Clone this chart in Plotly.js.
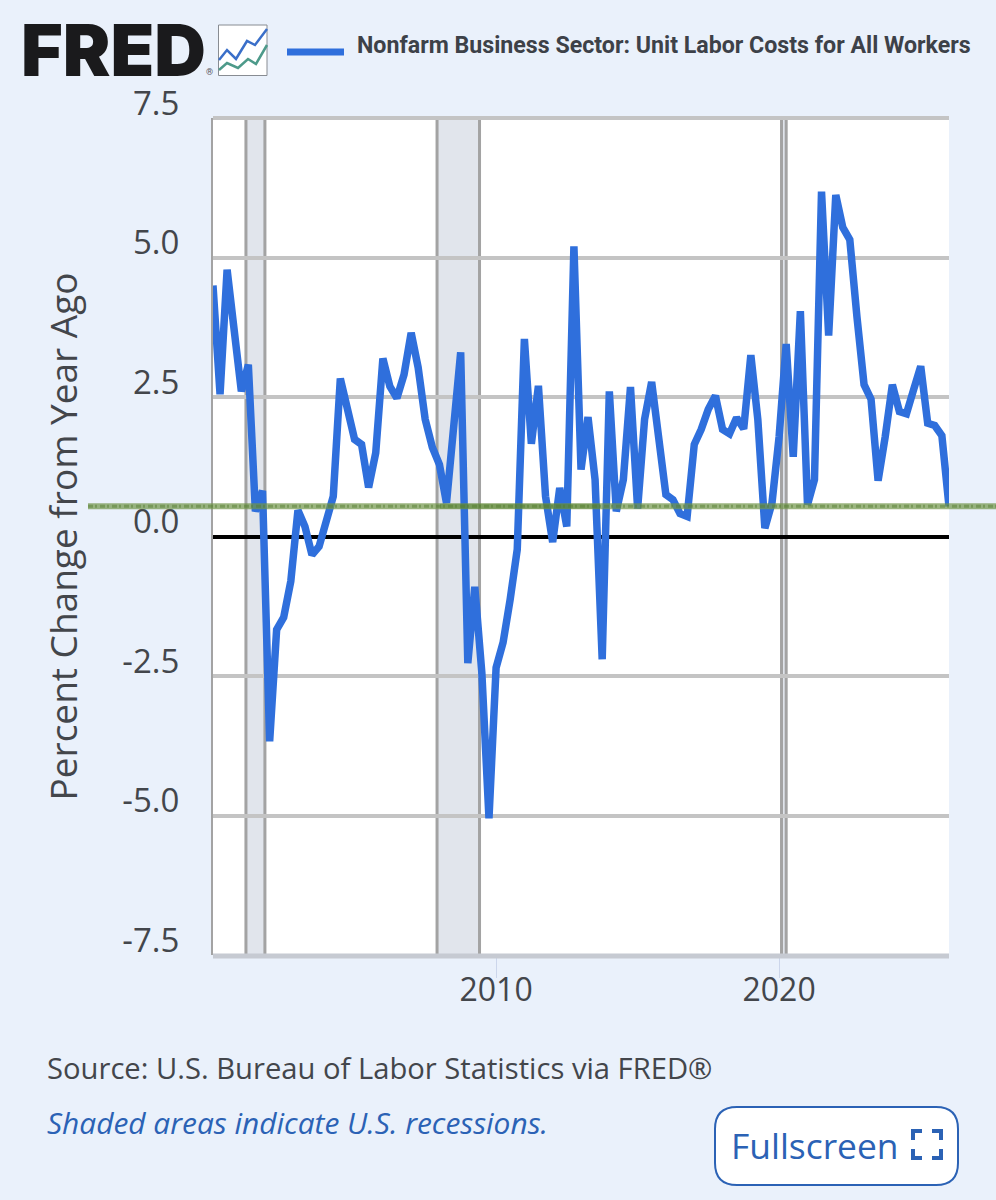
<!DOCTYPE html>
<html>
<head>
<meta charset="utf-8">
<script src="https://cdn.plot.ly/plotly-3.0.1.min.js"></script>
<style>
html, body { margin: 0; padding: 0; background: #eaf1fb; }
</style>
</head>
<body>
<div id="myDiv" style="width:996px;height:1200px"></div>
<script>
const seriesName = 'Nonfarm Business Sector: Unit Labor Costs for All Workers';

// percent change from year ago, 2000 Q1 to 2026 Q1
const values = [
    4.5, 2.55, 4.78, 3.76, 2.6, 3.08, 0.45, 0.82,
    -3.67, -1.67, -1.45, -0.8, 0.47, 0.18, -0.33, -0.18,
    0.34, 0.72, 2.83, 2.28, 1.74, 1.65, 0.88, 1.5,
    3.19, 2.69, 2.48, 2.9, 3.65, 3.03, 2.1, 1.6,
    1.29, 0.6, 1.97, 3.3, -2.27, -0.9, -2.44, -5.05,
    -2.35, -1.9, -1.13, -0.23, 3.54, 1.66, 2.7, 0.72,
    -0.1, 0.87, 0.18, 5.2, 1.2, 2.14, 1.02, -2.2,
    2.6, 0.45, 1.02, 2.68, 0.5, 2.1, 2.77, 1.74,
    0.75, 0.66, 0.41, 0.36, 1.65, 1.92, 2.28, 2.52,
    1.92, 1.84, 2.13, 1.93, 3.25, 2.1, 0.15, 0.6,
    1.79, 3.45, 1.43, 4.04, 0.57, 1.02, 6.18, 3.6,
    6.12, 5.54, 5.32, 3.94, 2.72, 2.46, 1.0, 1.79,
    2.72, 2.24, 2.2, 2.63, 3.05, 2.03, 1.99, 1.81,
    0.54
];

const recessionStarts = ['2001-03-01', '2007-12-01', '2020-02-01'];
const recessionEnds = ['2001-11-01', '2009-06-01', '2020-04-01'];

const yTicks = [-7.5, -5, -2.5, 0, 2.5, 5, 7.5];
const yTickLabels = ['-7.5', '-5.0', '-2.5', '0.0', '2.5', '5.0', '7.5'];
const xTicks = ['2010-01-01', '2020-01-01'];
const xTickLabels = ['2010', '2020'];

const greenLevel = 0.54;

// the plot area sits at 213..949 x 118..955 on the page
function px(x) { return (x - 213) / 736; }
function py(y) { return 1 - (y - 118) / 837; }

function getDates(count) {
    let dates = [];
    for (let i = 0; i < count; i++) {
        let year = 2000 + Math.floor(i / 4);
        let month = ['01', '04', '07', '10'][i % 4];
        dates.push(year + '-' + month + '-01');
    }
    return dates;
}

function recessionEdge(date) {
    return {
        type: 'line', layer: 'below', xref: 'x', yref: 'paper',
        x0: date, x1: date, y0: 0, y1: 1,
        line: {color: '#a3a3a3', width: 3}
    };
}

function getRecessions() {
    let shapes = [];
    recessionStarts.forEach((start, i) => {
        shapes.push({
            type: 'rect',
            layer: 'below',
            xref: 'x',
            yref: 'paper',
            x0: start,
            x1: recessionEnds[i],
            y0: 0,
            y1: 1,
            fillcolor: '#e1e5ec',
            line: {width: 0}
        });
        shapes.push(recessionEdge(start));
        shapes.push(recessionEdge(recessionEnds[i]));
    });
    return shapes;
}

// path in page pixels, turned into paper coordinates
function pagePath(points, close) {
    let d = points.map((p, i) => (i ? 'L' : 'M') + px(p[0]) + ',' + py(p[1])).join(' ');
    return d + (close ? ' Z' : '');
}

function pageShape(points, color, width) {
    return {
        type: 'path',
        xref: 'paper',
        yref: 'paper',
        path: pagePath(points),
        line: {color: color, width: width}
    };
}

function getChrome() {
    let shapes = [];

    // plotly drops the gridlines on the range ends, so draw those two
    shapes.push(pageShape([[213, 118], [949, 118]], '#c4c4c4', 4));
    shapes.push(pageShape([[213, 956], [949, 956]], '#c6cad2', 5));

    // the green stroke across the whole picture
    shapes.push({
        type: 'line', layer: 'above', xref: 'paper', yref: 'y',
        x0: px(88), x1: px(996), y0: greenLevel, y1: greenLevel,
        line: {color: 'rgba(112,150,72,0.7)', width: 6}
    });
    shapes.push({
        type: 'line', layer: 'above', xref: 'paper', yref: 'y',
        x0: px(88), x1: px(996), y0: greenLevel, y1: greenLevel,
        line: {color: 'rgba(80,122,45,0.45)', width: 3, dash: '5px,2px,2px,3px'}
    });
    shapes.push({
        type: 'line', layer: 'above', xref: 'paper', yref: 'y',
        x0: px(440), x1: px(600), y0: greenLevel, y1: greenLevel,
        line: {color: 'rgba(80,125,40,0.4)', width: 5}
    });

    // legend key
    shapes.push(pageShape([[287, 52], [344, 52]], '#2f6fdc', 7));

    // small chart icon next to the logo
    shapes.push({
        type: 'rect', xref: 'paper', yref: 'paper',
        x0: px(218.5), x1: px(267), y0: py(75.5), y1: py(25),
        fillcolor: '#ffffff',
        line: {color: '#888c92', width: 1}
    });
    shapes.push(pageShape([[219, 60], [227, 50], [236, 59], [247, 41], [255, 45], [267, 29]], '#3a6fc9', 2.5));
    shapes.push(pageShape([[219, 70], [227, 63], [238, 68], [248, 59], [256, 64], [267, 45]], '#4d9a8a', 2.5));

    // fullscreen button
    shapes.push({
        type: 'path', xref: 'paper', yref: 'paper',
        path: 'M' + px(737) + ',' + py(1107)
            + ' L' + px(936) + ',' + py(1107)
            + ' Q' + px(958) + ',' + py(1107) + ' ' + px(958) + ',' + py(1129)
            + ' L' + px(958) + ',' + py(1163)
            + ' Q' + px(958) + ',' + py(1185) + ' ' + px(936) + ',' + py(1185)
            + ' L' + px(737) + ',' + py(1185)
            + ' Q' + px(715) + ',' + py(1185) + ' ' + px(715) + ',' + py(1163)
            + ' L' + px(715) + ',' + py(1129)
            + ' Q' + px(715) + ',' + py(1107) + ' ' + px(737) + ',' + py(1107) + ' Z',
        fillcolor: '#ffffff',
        line: {color: '#2b62b5', width: 2}
    });
    shapes.push(pageShape([[913, 1140], [913, 1131], [922, 1131]], '#2b62b5', 4));
    shapes.push(pageShape([[932, 1131], [941, 1131], [941, 1140]], '#2b62b5', 4));
    shapes.push(pageShape([[913, 1149], [913, 1158], [922, 1158]], '#2b62b5', 4));
    shapes.push(pageShape([[932, 1158], [941, 1158], [941, 1149]], '#2b62b5', 4));

    return shapes;
}

function pageText(text, x, y, font, anchor) {
    return {
        text: text,
        xref: 'paper',
        yref: 'paper',
        x: px(x),
        y: py(y),
        xanchor: anchor || 'left',
        yanchor: 'middle',
        showarrow: false,
        font: font
    };
}

function getAnnotations() {
    return [
        pageText('FRED', 19, 50, {family: 'Inter', size: 71.5, color: '#1a1a1c', weight: 900}),
        pageText('®', 204, 72, {family: 'Roboto', size: 9, color: '#55585c'}),
        pageText(seriesName, 355, 45, {family: 'Roboto', size: 23.2, color: '#3d4148', weight: 700}),
        pageText('Source: U.S. Bureau of Labor Statistics via FRED®', 45, 1068,
            {family: 'Open Sans', size: 29.2, color: '#43464b'}),
        pageText('<i>Shaded areas indicate U.S. recessions.</i>', 45, 1122,
            {family: 'Open Sans', size: 29.9, color: '#2b62b5'}),
        pageText('Fullscreen', 729, 1145, {family: 'Open Sans', size: 35.4, color: '#2b62b5'})
    ];
}

Plotly.newPlot('myDiv', [{
    type: 'scatter',
    mode: 'lines',
    name: seriesName,
    x: getDates(values.length),
    y: values,
    line: {color: '#2f6fdc', width: 7.5},
    hoverinfo: 'x+y'
}], {
    width: 996,
    height: 1200,
    autosize: false,
    paper_bgcolor: '#eaf1fb',
    plot_bgcolor: '#ffffff',
    margin: {l: 213, r: 47, t: 118, b: 245, pad: 0},
    showlegend: false,
    xaxis: {
        type: 'date',
        range: ['2000-01-01', '2026-01-01'],
        tickmode: 'array',
        tickvals: xTicks,
        ticktext: xTickLabels,
        ticks: 'outside',
        ticklen: 22,
        tickwidth: 1,
        tickcolor: '#ccd6eb',
        ticklabelstandoff: -15,
        showgrid: false,
        zeroline: false,
        showline: false,
        tickfont: {family: 'Open Sans', size: 32, color: '#43464b'}
    },
    yaxis: {
        range: [-7.5, 7.5],
        tickmode: 'array',
        tickvals: yTicks,
        ticktext: yTickLabels,
        ticks: '',
        ticklabelstandoff: 25,
        ticklabelshift: -15,
        showgrid: true,
        gridcolor: '#c4c4c4',
        gridwidth: 4,
        zeroline: true,
        zerolinecolor: '#000000',
        zerolinewidth: 4,
        showline: true,
        linecolor: '#a3a3a3',
        linewidth: 2,
        tickfont: {family: 'Open Sans', size: 33, color: '#43464b'},
        title: {
            text: 'Percent Change from Year Ago',
            standoff: 33,
            font: {family: 'Open Sans', size: 37, color: '#43464b'}
        }
    },
    shapes: getRecessions().concat(getChrome()),
    annotations: getAnnotations()
}, {displayModeBar: false});
</script>
</body>
</html>
